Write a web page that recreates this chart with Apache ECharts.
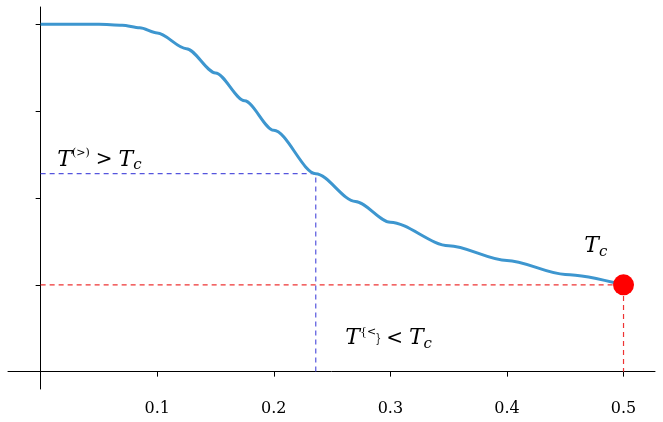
<!DOCTYPE html>
<html><head><meta charset="utf-8">
<script src="https://cdn.jsdelivr.net/npm/echarts@6/dist/echarts.min.js"></script>
<style>html,body{margin:0;padding:0;background:#fff}#c{width:663px;height:422px}</style>
</head><body><div id="c"></div>
<script>
const curveX = [0,0.03,0.05,0.07,0.085,0.1,0.125,0.15,0.175,0.2,0.236,0.27,0.3,0.35,0.4,0.45,0.5];
const curveY = [2,2,2,1.995,1.98,1.95,1.86,1.72,1.56,1.39,1.14,0.98,0.86,0.725,0.64,0.56,0.5];
const xTicks = [0.1,0.2,0.3,0.4,0.5];
const yTicks = [0.5,1.0,1.5,2.0];
const tGreater = [0.236, 1.14];
const tc = [0.5, 0.5];

const F = 'DejaVu Serif, Liberation Serif, serif';
const rich = {
  t:{fontFamily:F,fontStyle:'italic',fontSize:22,color:'#000'},
  sup:{fontFamily:F,fontSize:11,color:'#000',verticalAlign:'top',padding:[0,0,14,0]},
  op:{fontFamily:F,fontSize:20,color:'#000',padding:[0,6,0,6]},
  sub:{fontFamily:F,fontStyle:'italic',fontSize:15,color:'#000',padding:[10,0,0,0]}
};
const chart = echarts.init(document.getElementById('c'));
const curve = curveX.map((x,i)=>[x,curveY[i]]);
chart.setOption({
  animation:false,
  grid:{left:8,right:8,top:7,bottom:33,containLabel:false,outerBoundsMode:'none'},
  xAxis:{type:'value',min:-0.028,max:0.527,
    axisLine:{onZero:true,lineStyle:{color:'#000'}},
    axisTick:{customValues:xTicks,length:5,lineStyle:{color:'#000'}},
    axisLabel:{customValues:xTicks,fontFamily:F,fontSize:16,color:'#000',margin:12,formatter:v=>v.toFixed(1)},
    splitLine:{show:false}},
  yAxis:{type:'value',min:-0.1,max:2.1,
    axisLine:{show:true,onZero:true,lineStyle:{color:'#000'}},
    axisTick:{show:true,customValues:yTicks,length:5,lineStyle:{color:'#000'}},
    axisLabel:{customValues:yTicks,fontFamily:F,fontSize:16,color:'#000',margin:8,formatter:v=>v.toFixed(1)},
    splitLine:{show:false}},
  series:[
    {type:'line',data:[[0,tGreater[1]],[tGreater[0],tGreater[1]],[tGreater[0],0]],symbol:'none',silent:true,
     lineStyle:{color:'#5555dd',type:[5,4],width:1.2},z:1},
    {type:'line',data:[[0,tc[1]],[tc[0],tc[1]],[tc[0],0]],symbol:'none',silent:true,
     lineStyle:{color:'#ee3333',type:[5,4],width:1.2},z:1},
    {type:'line',data:curve,smooth:0.3,smoothMonotone:'x',symbol:'none',lineStyle:{color:'#3d96cf',width:3},z:3},
    {type:'scatter',data:[tc],symbolSize:21,itemStyle:{color:'#ff0000',opacity:1},z:4},
    {type:'scatter',symbolSize:0,silent:true,z:5,itemStyle:{opacity:1},data:[
      {value:[0.01,1.22],label:{show:true,position:'right',formatter:'{t|T}{sup|(>)}{op|>}{t|T}{sub|c}',rich}},
      {value:[0.257,0.19],label:{show:true,position:'right',formatter:'{t|T}{sup|{<}}{op|<}{t|T}{sub|c}',rich}},
      {value:[0.462,0.72],label:{show:true,position:'right',formatter:'{t|T}{sub|c}',rich}}
    ]}
  ]
});
</script></body></html>
